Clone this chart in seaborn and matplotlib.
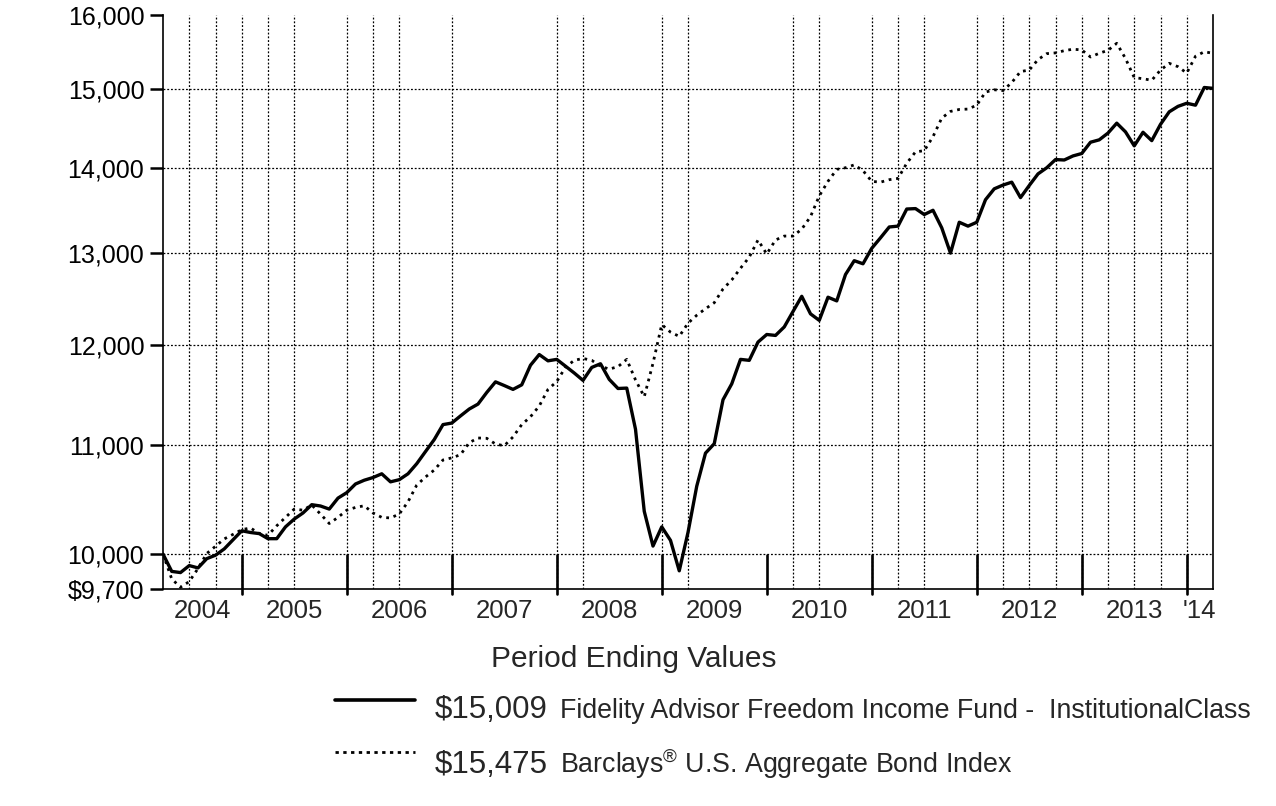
import numpy as np
import pandas as pd
import matplotlib
matplotlib.use("Agg")
import matplotlib.pyplot as plt
from matplotlib.lines import Line2D
import seaborn as sns

# ---------------- data ----------------
months = pd.date_range("2004-03-31", periods=121, freq="ME")

fund_values = [
    10000, 9850, 9840, 9900, 9880, 9960, 9990, 10045, 10125, 10205,
    10190, 10180, 10135, 10135, 10240, 10310, 10365, 10440, 10428, 10400,
    10500, 10550, 10630, 10665, 10690, 10725, 10650, 10670, 10725, 10820,
    10935, 11050, 11195, 11210, 11280, 11348, 11397, 11513, 11620, 11583,
    11544, 11590, 11790, 11900, 11835, 11850, 11780, 11710, 11635, 11767,
    11805, 11645, 11553, 11557, 11150, 10380, 10070, 10240, 10120, 9855,
    10190, 10610, 10920, 11010, 11440, 11600, 11850, 11840, 12030, 12110,
    12100, 12190, 12355, 12520, 12330, 12260, 12510, 12470, 12760, 12915,
    12880, 13055, 13175, 13300, 13310, 13510, 13515, 13445, 13495, 13290,
    13000, 13355, 13310, 13355, 13620, 13750, 13795, 13830, 13645, 13790,
    13930, 14005, 14105, 14100, 14150, 14180, 14320, 14350, 14435, 14560,
    14450, 14275, 14445, 14340, 14545, 14705, 14775, 14815, 14790, 15020,
    15009,
]

index_values = [
    10000, 9785, 9715, 9763, 9875, 10005, 10068, 10133, 10173, 10215,
    10230, 10181, 10165, 10250, 10325, 10400, 10390, 10437, 10355, 10270,
    10325, 10390, 10415, 10430, 10365, 10325, 10320, 10355, 10466, 10620,
    10695, 10760, 10855, 10875, 10905, 11020, 11065, 11062, 11007, 10990,
    11075, 11195, 11272, 11378, 11544, 11623, 11770, 11840, 11860, 11840,
    11780, 11750, 11775, 11850, 11640, 11470, 11810, 12215, 12135, 12090,
    12230, 12315, 12385, 12450, 12600, 12700, 12830, 12955, 13150, 12990,
    13150, 13195, 13195, 13275, 13420, 13665, 13840, 13985, 14005, 14040,
    13970, 13840, 13830, 13860, 13875, 14060, 14200, 14215, 14390, 14625,
    14710, 14735, 14740, 14790, 14960, 14990, 14980, 15085, 15230, 15250,
    15390, 15470, 15480, 15510, 15530, 15520, 15425, 15475, 15515, 15610,
    15405, 15150, 15135, 15115, 15250, 15340, 15295, 15210, 15435, 15495,
    15475,
]

series_names = ["Fidelity Advisor Freedom Income Fund -  InstitutionalClass",
                "Barclays$^{\u00ae}$ U.S. Aggregate Bond Index"]
ending_labels = ["$15,009", "$15,475"]

y_ticks = [9700, 10000, 11000, 12000, 13000, 14000, 15000, 16000]
y_tick_labels = ["$9,700", "10,000", "11,000", "12,000", "13,000", "14,000", "15,000", "16,000"]
year_labels = ["2004", "2005", "2006", "2007", "2008", "2009", "2010", "2011", "2012", "2013", "'14"]

# quarter-end months (index from Mar 2004) that carry a dotted vertical grid line
grid_months = [3, 6, 9, 12, 15, 21, 24, 27, 33, 45, 48, 57, 60, 72, 75, 81, 84,
               87, 93, 96, 99, 102, 105, 108, 111, 114, 117]

# ---------------- figure ----------------
sns.set_style("white")
plt.rcParams["font.family"] = ["Liberation Sans", "DejaVu Sans"]
plt.rcParams["mathtext.fontset"] = "custom"
plt.rcParams["mathtext.rm"] = "Liberation Sans"
plt.rcParams["mathtext.default"] = "regular"

W, H = 1276, 806
fig = plt.figure(figsize=(W / 100, H / 100), dpi=100)
L, R, T, B = 163, 1213, 15, 589
ax = fig.add_axes([L / W, 1 - B / H, (R - L) / W, (B - T) / H])

x = np.arange(len(months))
df = pd.DataFrame({"m": x, "fund": fund_values, "index": index_values})

sns.lineplot(data=df, x="m", y="index", ax=ax, color="black", lw=2.0,
             linestyle=(0, (1.0, 1.7)), zorder=3)
sns.lineplot(data=df, x="m", y="fund", ax=ax, color="black", lw=2.4, zorder=4)

ax.set_yscale("log")
ax.set_ylim(9700, 16000)
ax.set_xlim(0, len(months) - 1)
ax.yaxis.set_minor_locator(matplotlib.ticker.NullLocator())
ax.set_yticks(y_ticks)
ax.set_yticklabels(y_tick_labels)
ax.tick_params(axis="y", direction="out", length=9.5, width=1.8, pad=4,
               labelsize=18, color="black", labelcolor="black", left=True)
ax.set_xlabel("")
ax.set_ylabel("")

# grid
grid_kw = dict(color="black", lw=0.9, linestyle=(0, (1.5, 1.5)), zorder=1)
for v in y_ticks[1:-1]:
    ax.axhline(v, **grid_kw)
for gm in grid_months:
    ax.axvline(gm, **grid_kw)

# spines
for side in ["left", "right", "bottom"]:
    ax.spines[side].set_visible(True)
    ax.spines[side].set_color("black")
    ax.spines[side].set_linewidth(1.2)
ax.spines["top"].set_visible(False)

# x: year boundary ticks (December) and centered year labels
year_ends = list(range(9, len(months) - 1, 12))
ax.set_xticks([])
for ye in year_ends:
    ax.axvline(ye, ymin=-5 / (B - T), ymax=34 / (B - T), color="black",
               lw=1.9, clip_on=False, zorder=5)
bounds = [0] + year_ends + [len(months) - 1]
for i, lab in enumerate(year_labels):
    cx = (bounds[i] + bounds[i + 1]) / 2
    ax.text(cx, -0.018, lab, transform=ax.get_xaxis_transform(),
            ha="center", va="top", fontsize=18.5)

# bottom legend block
fig.text(634 / W, 1 - 667 / H, "Period Ending Values", ha="center",
         va="baseline", fontsize=21.5)
fig.add_artist(Line2D([335 / W, 415 / W], [1 - 700 / H] * 2, color="black",
                      lw=2.6, transform=fig.transFigure))
fig.add_artist(Line2D([335 / W, 415 / W], [1 - 752 / H] * 2, color="black",
                      lw=2.0, linestyle=(0, (1.2, 1.6)), transform=fig.transFigure))
for row, (lab, name) in enumerate(zip(ending_labels, series_names)):
    yb = 1 - (718 + 55 * row) / H
    fig.text(435 / W, yb, lab.replace("$", r"\$"), ha="left", va="baseline", fontsize=22.5)
    fig.text(560 / W, yb, name, ha="left", va="baseline", fontsize=19.3)

fig.savefig("out.png", dpi=100, facecolor="white")
